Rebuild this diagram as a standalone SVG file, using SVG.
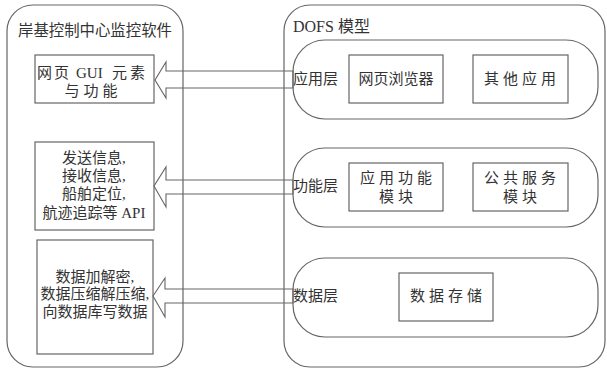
<svg xmlns="http://www.w3.org/2000/svg" width="607" height="370" viewBox="0 0 607 370">
<style>
.frame{fill:none;stroke:#666;stroke-width:1.2}
.box{fill:none;stroke:#666;stroke-width:1.2}
.arr{fill:none;stroke:#666;stroke-width:1.1}
text{font-family:"Liberation Serif","Noto Sans CJK SC",serif;font-size:15px;fill:#333}
.c{text-anchor:middle}
</style>
<rect width="607" height="370" fill="#fff"/>
<g id="client">
<rect class="frame" x="7" y="5" width="176" height="362" rx="26"/>
<text x="18" y="36" style="font-size:15.4px">岸基控制中心监控软件</text>
</g>
<g id="gui">
<rect class="box" x="35" y="55" width="119" height="48"/>
<text y="78"><tspan x="37" letter-spacing="2">网页</tspan><tspan x="76">GUI</tspan><tspan x="112" letter-spacing="3">元素</tspan></text>
<text class="c" x="93" y="96" letter-spacing="4">与功能</text>
</g>
<g id="api">
<rect class="box" x="35" y="142" width="119" height="88"/>
<text class="c" x="94" y="163">发送信息,</text>
<text class="c" x="94" y="181">接收信息,</text>
<text class="c" x="94" y="199">船舶定位,</text>
<text class="c" x="94" y="218">航迹追踪等 API</text>
</g>
<g id="data-ops">
<rect class="box" x="37" y="240" width="116" height="114"/>
<text class="c" x="95" y="282">数据加解密,</text>
<text class="c" x="95" y="299">数据压缩解压缩,</text>
<text class="c" x="95" y="317">向数据库写数据</text>
</g>
<g id="dofs">
<rect class="frame" x="284" y="5" width="321" height="362" rx="26"/>
<text x="293" y="32" style="font-size:16px">DOFS 模型</text>
</g>
<g id="app-layer">
<rect class="frame" x="293" y="40" width="305" height="79" rx="32"/>
<text x="293" y="84">应用层</text>
<rect class="box" x="349" y="55" width="94" height="48"/>
<text class="c" x="396" y="84">网页浏览器</text>
<rect class="box" x="473" y="55" width="95" height="48"/>
<text class="c" x="522" y="84" letter-spacing="4">其他应用</text>
</g>
<g id="func-layer">
<rect class="frame" x="293" y="148" width="305" height="79" rx="32"/>
<text x="293" y="191">功能层</text>
<rect class="box" x="349" y="163" width="94" height="48"/>
<text class="c" x="398" y="183" letter-spacing="4">应用功能</text>
<text class="c" x="398" y="202" letter-spacing="4">模块</text>
<rect class="box" x="473" y="163" width="95" height="48"/>
<text class="c" x="522" y="183" letter-spacing="4">公共服务</text>
<text class="c" x="522" y="202" letter-spacing="4">模块</text>
</g>
<g id="data-layer">
<rect class="frame" x="293" y="258" width="305" height="79" rx="32"/>
<text x="293" y="301">数据层</text>
<rect class="box" x="399" y="273" width="94" height="48"/>
<text class="c" x="448" y="301" letter-spacing="4">数据存储</text>
</g>
<g id="connectors">
<polygon class="arr" points="293,71 166,71 166,62 155,80 166,98 166,88 293,88"/>
<polygon class="arr" points="293,180 166,180 166,167 154,186 166,207 166,194 293,194"/>
<polygon class="arr" points="293,289 165,289 165,278 153,296 165,317 165,303 293,303"/>
</g>
</svg>
